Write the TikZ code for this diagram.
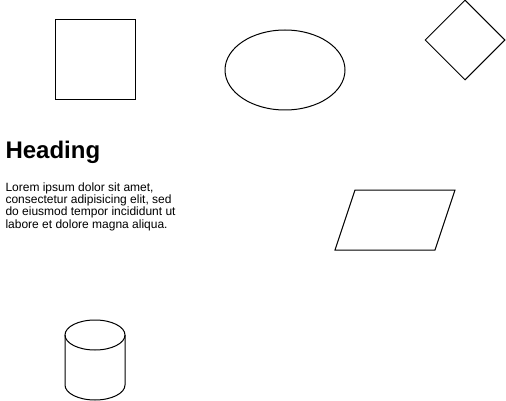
\documentclass[tikz,border=0pt]{standalone}
\usepackage{fontspec}
\setmainfont{Liberation Sans}
\usetikzlibrary{shapes.geometric}
\tikzset{shapebox/.style={draw, line width=1pt, inner sep=0pt}}
\begin{document}
\begin{tikzpicture}[x=1pt, y=-1pt, line width=1pt]
        \useasboundingbox (0,0) rectangle (506,401);
        \node[shapebox, rectangle, minimum width=80pt, minimum height=80pt] (square) at (95,60) {};
        \node[shapebox, ellipse, minimum width=120pt, minimum height=80pt] (oval) at (285,70) {};
        \node[shapebox, diamond, minimum width=80pt, minimum height=80pt] (rhomb) at (465,40) {};
        \node[anchor=base west, inner sep=0pt, font=\fontsize{24}{24}\selectfont\bfseries] (heading) at (5,159) {Heading};
        \node[anchor=base west, inner sep=0pt, align=left, font=\fontsize{12}{12.3}\selectfont] (lorem) at (5,228)
            {Lorem ipsum dolor sit amet,\\consectetur adipisicing elit, sed\\do eiusmod tempor incididunt ut\\labore et dolore magna aliqua.};
        \draw (355,190) to (455,190) to (435,250) to (335,250) -- cycle;
        \draw (95,335) ellipse [x radius=30, y radius=15];
        \draw (65,335) to (65,385) arc [start angle=180, end angle=360, x radius=30, y radius=-15] to (125,335);
    \end{tikzpicture}
\end{document}
